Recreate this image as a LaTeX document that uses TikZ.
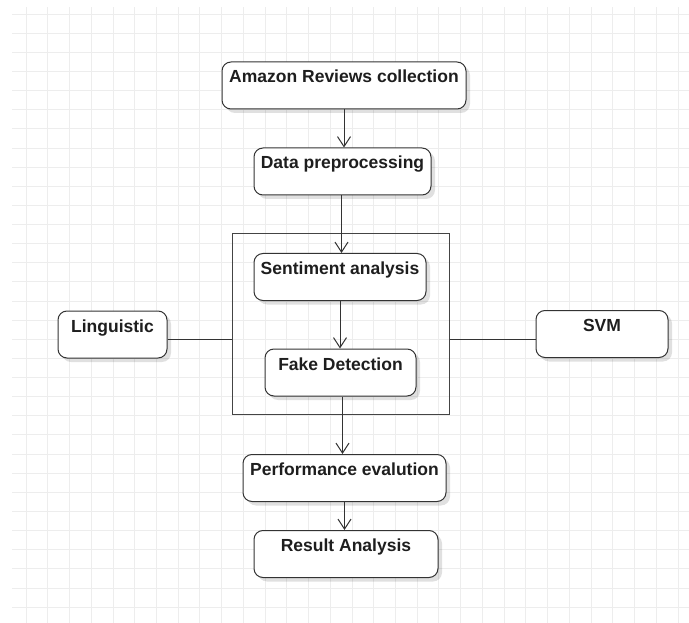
\documentclass[tikz,border=0pt]{standalone}
\usepackage{fontspec}
\setmainfont{Liberation Sans}
\usetikzlibrary{arrows.meta, shadows, positioning}
\definecolor{cbox}{HTML}{333333}
\definecolor{cframe}{HTML}{444444}
\definecolor{ctext}{HTML}{1E1E1E}
\definecolor{cgrid}{HTML}{EDEDED}

\tikzset{
    stepbox/.style={draw=cbox, line width=1pt, rounded corners=9pt, fill=white,
        drop shadow={shadow xshift=4pt, shadow yshift=-4pt, opacity=0.12, fill=black},
        font=\fontsize{17.5}{20}\selectfont\bfseries, text=ctext, inner xsep=0pt, inner ysep=3pt,
        text height=18pt, text depth=23pt},
    flow/.style={draw=cbox, line width=1pt, -{Straight Barb[length=10pt, width=13pt]}},
    link/.style={draw=cbox, line width=1pt},
}

\begin{document}
\begin{tikzpicture}[x=1pt, y=-1pt]
    \useasboundingbox (0,0) rectangle (689,623);
    % background grid
    \foreach \i in {0,...,30} \draw[cgrid, line width=0.8pt] ({26+21.73*\i},7) -- ({26+21.73*\i},623);
    \foreach \j in {0,...,31} \draw[cgrid, line width=0.8pt] (12,{14+19.13*\j}) -- (689,{14+19.13*\j});
    % frame round the analysis steps
    \node (frame) [draw=cframe, line width=1pt, minimum width=217pt, minimum height=180pt, inner sep=0pt] at (340.5,324) {};
    \node (amazon) [stepbox, minimum width=244pt] at (344,85.5) {Amazon Reviews collection};
    \node (prep) [stepbox, minimum width=177pt] at (342.5,171.5) {Data preprocessing};
    \node (sent) [stepbox, minimum width=172pt] at (340,277) {Sentiment analysis};
    \node (fake) [stepbox, minimum width=151pt] at (340.5,372.5) {Fake Detection};
    \node (perf) [stepbox, minimum width=203pt] at (344.5,478) {Performance evalution};
    \node (result) [stepbox, minimum width=184pt] at (346,554) {Result Analysis};
    \node (ling) [stepbox, minimum width=109pt] at (112.5,334.5) {Linguistic};
    \node (svm) [stepbox, minimum width=132pt] at (602,334) {SVM};
    % connectors
    \draw[flow] (amazon.south) -- (amazon.south |- prep.north);
    \draw[flow] ([xshift=-1pt]prep.south) -- ([xshift=-1pt]prep.south |- sent.north);
    \draw[flow] (sent.south) -- (sent.south |- fake.north);
    \draw[flow] ([xshift=2pt]fake.south) -- ([xshift=2pt]fake.south |- perf.north);
    \draw[flow] (perf.south) -- (perf.south |- result.north);
    \draw[link] ([yshift=-5pt]ling.east) -- ([yshift=-5pt]ling.east -| frame.west);
    \draw[link] ([yshift=-5pt]svm.west) -- ([yshift=-5pt]svm.west -| frame.east);
\end{tikzpicture}
\end{document}
